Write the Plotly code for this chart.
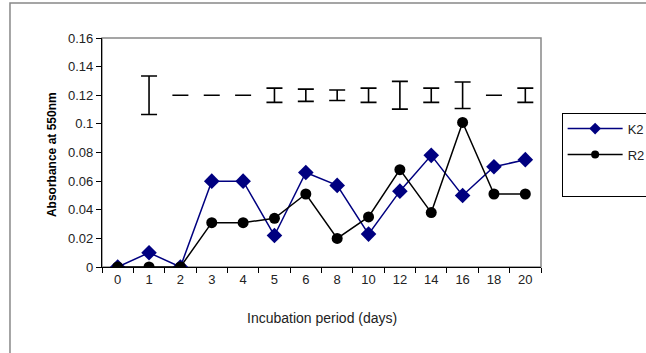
import plotly.graph_objects as go

days = ["0", "1", "2", "3", "4", "5", "6", "8", "10", "12", "14", "16", "18", "20"]
k2 = [0, 0.010, 0, 0.060, 0.060, 0.022, 0.066, 0.057, 0.023, 0.053, 0.078, 0.050, 0.070, 0.075]
r2 = [0, 0, 0, 0.031, 0.031, 0.034, 0.051, 0.020, 0.035, 0.068, 0.038, 0.101, 0.051, 0.051]
err_center = [None, 0.12, 0.12, 0.12, 0.12, 0.12, 0.12, 0.12, 0.12, 0.12, 0.12, 0.12, 0.12, 0.12]
err_half = [0, 0.0135, 0, 0, 0, 0.005, 0.0043, 0.0037, 0.005, 0.0097, 0.005, 0.0093, 0, 0.005]
y_ticks = [0, 0.02, 0.04, 0.06, 0.08, 0.1, 0.12, 0.14, 0.16]
y_labels = ["0", "0.02", "0.04", "0.06", "0.08", "0.1", "0.12", "0.14", "0.16"]

FONT = "Liberation Sans, Arial, sans-serif"

fig = go.Figure()
fig.add_trace(go.Scatter(
    x=days, y=err_center, mode="markers",
    marker=dict(size=1, color="rgba(0,0,0,0)"),
    error_y=dict(type="data", array=err_half, visible=True, color="black", thickness=1.6, width=8),
    showlegend=False, hoverinfo="skip"))
fig.add_trace(go.Scatter(
    x=days, y=k2, mode="lines+markers", name="K2", showlegend=False,
    line=dict(color="#000080", width=1.5),
    marker=dict(symbol="diamond", size=12, color="#000080")))
fig.add_trace(go.Scatter(
    x=days, y=r2, mode="lines+markers", name="R2", showlegend=False,
    line=dict(color="black", width=1.5),
    marker=dict(symbol="circle", size=11, color="black")))
# legend entries (smaller symbols as in the reference legend)
fig.add_trace(go.Scatter(
    x=[None], y=[None], mode="lines+markers", name="K2", legendgroup="a",
    line=dict(color="#000080", width=1.5),
    marker=dict(symbol="diamond", size=9, color="#000080")))
fig.add_trace(go.Scatter(
    x=[None], y=[None], mode="lines+markers", name="R2", legendgroup="b",
    line=dict(color="black", width=1.5),
    marker=dict(symbol="circle", size=8, color="black")))
fig.add_trace(go.Scatter(
    x=[None], y=[None], mode="markers", name=" ", legendgroup="c",
    marker=dict(size=1, color="rgba(0,0,0,0)")))

fig.update_layout(
    width=646, height=353,
    margin=dict(l=102, r=105, t=38, b=86, autoexpand=False),
    paper_bgcolor="white", plot_bgcolor="white",
    font=dict(family=FONT, size=12, color="#222222"),
    xaxis=dict(type="category", tickson="boundaries", ticks="outside", ticklen=5,
               tickcolor="black", showline=True, linecolor="black", linewidth=1.2,
               showgrid=False, zeroline=False, range=[-0.5, 13.5],
               tickfont=dict(size=13, color="#222222")),
    yaxis=dict(range=[0, 0.16], tickvals=y_ticks, ticktext=y_labels, ticks="outside",
               ticklen=5, tickcolor="black", showline=True, linecolor="black", linewidth=1.2,
               showgrid=False, zeroline=False, tickfont=dict(size=13, color="#222222")),
    legend=dict(x=1.047, y=0.674, xanchor="left", yanchor="top", itemwidth=55,
                bordercolor="black", borderwidth=1, bgcolor="white",
                font=dict(size=13, color="#222222"), tracegroupgap=6),
    shapes=[
        dict(type="rect", xref="paper", yref="paper", x0=0, x1=1, y0=0, y1=1,
             line=dict(color="#888888", width=1.5), layer="below"),
        dict(type="rect", xref="paper", yref="paper", x0=-0.2096, x1=1.5, y0=-1, y1=1.1528,
             line=dict(color="#888888", width=1.5), layer="below"),
    ],
    annotations=[
        dict(text="<b>Absorbance at 550nm</b>", xref="paper", yref="paper", x=-0.114, y=0.493,
             xanchor="center", yanchor="middle",
             textangle=-90, showarrow=False, font=dict(size=12, color="black")),
        dict(text="Incubation period (days)", xref="paper", yref="paper", x=0.5, y=-0.223,
             xanchor="center", yanchor="middle",
             showarrow=False, font=dict(size=14, color="#222222")),
    ],
)

fig.write_html("out.html", config={"displayModeBar": False},
               post_script="document.body.style.margin='0';")
